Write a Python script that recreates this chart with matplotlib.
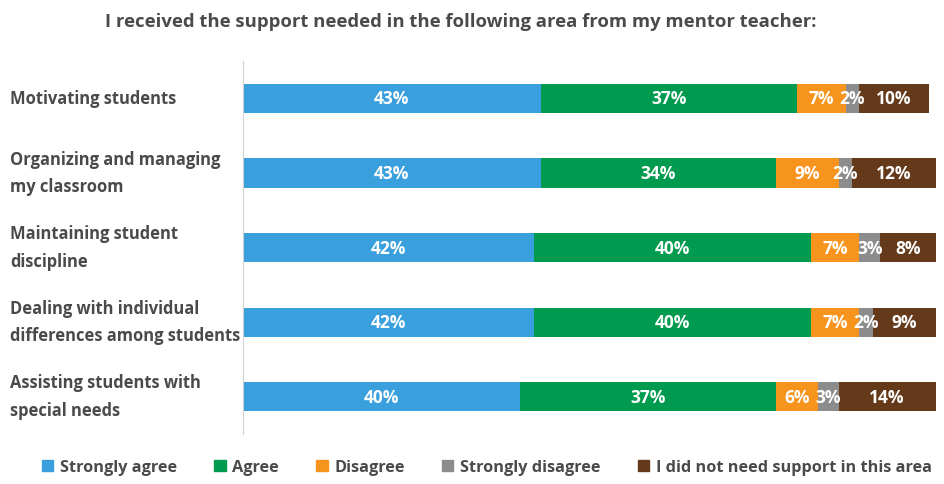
import numpy as np
import matplotlib.pyplot as plt
from matplotlib.patches import Patch

categories = ["Motivating students",
              "Organizing and managing\nmy classroom",
              "Maintaining student\ndiscipline",
              "Dealing with individual\ndifferences among students",
              "Assisting students with\nspecial needs"]
series = ["Strongly agree", "Agree", "Disagree", "Strongly disagree",
          "I did not need support in this area"]
strongly_agree = [43, 43, 42, 42, 40]
agree = [37, 34, 40, 40, 37]
disagree = [7, 9, 7, 7, 6]
strongly_disagree = [2, 2, 3, 2, 3]
no_support = [10, 12, 8, 9, 14]

colors = ["#3A9FDD", "#009B4E", "#F7941D", "#8C8C8C", "#643A1A"]
txt = "#4A4A4A"
font = dict(family="Open Sans", fontweight="bold")

fig = plt.figure(figsize=(9.45, 4.85), dpi=100)
ax = fig.add_axes([0.257, 0.103, 0.733, 0.769])

values = [strongly_agree, agree, disagree, strongly_disagree, no_support]
y = np.arange(len(categories))
left = np.zeros(len(categories))
for vals, c, name in zip(values, colors, series):
    ax.barh(y, vals, left=left, height=0.39, color=c, label=name)
    for yi, l, v in zip(y, left, vals):
        ax.text(l + v / 2, yi, "{}%".format(v), ha="center", va="center",
                color="white", fontsize=12.5, **font)
    left += np.array(vals)

ax.set_xlim(0, 100)
ax.set_ylim(4.5, -0.5)
ax.set_xticks([])
ax.set_yticks([])
for s in ["top", "right", "bottom"]:
    ax.spines[s].set_visible(False)
ax.spines["left"].set_color("#D0D0D0")

for yi, cat in zip(y, categories):
    fig.text(10 / 945, 1 - (99 + yi * 74.5) / 485, cat, ha="left", va="center",
             fontsize=11.9, color=txt, linespacing=1.7, **font)

fig.text(0.487, 1 - 22 / 485,
         "I received the support needed in the following area from my mentor teacher:",
         ha="center", va="center", fontsize=13.3, color=txt, **font)

handles = [Patch(color=c) for c in colors]
fig.legend(handles, series, loc="center", bbox_to_anchor=(0.515, 1 - 468 / 485),
           ncol=5, frameon=False, handlelength=0.7, handleheight=0.7,
           handletextpad=0.4, columnspacing=2.3,
           prop=dict(family="Open Sans", weight="bold", size=11.7))
for t in fig.legends[0].get_texts():
    t.set_color(txt)

plt.savefig("out.png", dpi=100)
